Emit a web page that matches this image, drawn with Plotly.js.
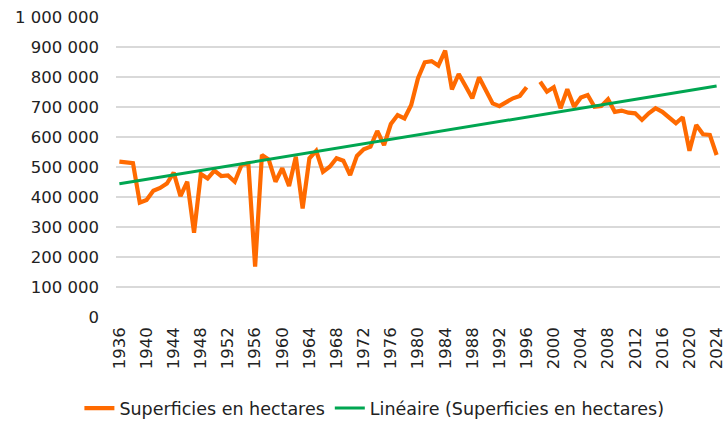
<!DOCTYPE html>
<html>
<head>
<meta charset="utf-8">
<script src="https://cdn.plot.ly/plotly-3.0.1.min.js"></script>
<style>html,body{margin:0;padding:0;background:#fff;}#chart{width:727px;height:423px;}</style>
</head>
<body>
<div id="chart"></div>
<script>
var years = [];
for (var y = 1936; y <= 2024; y++) years.push(y);

var surfaces = [
  518000, 515000, 513000, 381000, 390000, 421000, 430000, 445000, 481000, 403000,
  451000, 281000, 477000, 462000, 488000, 470000, 472000, 451000, 507000, 512000,
  168000, 540000, 525000, 451000, 496000, 437000, 534000, 362000, 529000, 554000,
  484000, 501000, 529000, 521000, 473000, 537000, 559000, 568000, 620000, 573000,
  643000, 673000, 662000, 707000, 796000, 849000, 853000, 838000, 888000, 759000,
  810000, 770000, 729000, 799000, 759000, 712000, 703000, 718000, 729000, 737000,
  766000, null,   784000, 751000, 766000, 696000, 759000, 701000, 732000, 740000,
  701000, 703000, 726000, 684000, 688000, 681000, 679000, 657000, 679000, 696000,
  684000, 666000, 646000, 666000, 554000, 640000, 609000, 607000, 540000
];

var trendYears = [1936, 2024];
var trendValues = [444000, 770000];

var yTicks = [0, 100000, 200000, 300000, 400000, 500000, 600000, 700000, 800000, 900000, 1000000];
var xTicks = [];
for (var t = 1936; t <= 2024; t += 4) xTicks.push(t);

var font = "DejaVu Sans, sans-serif";
var txt = '#222222';

var traces = [
  {
    x: years, y: surfaces, type: 'scatter', mode: 'lines',
    name: 'Superficies en hectares', connectgaps: false,
    line: {color: '#ff6a00', width: 4.2, shape: 'linear'}
  },
  {
    x: trendYears, y: trendValues, type: 'scatter', mode: 'lines',
    name: 'Linéaire (Superficies en hectares)',
    line: {color: '#00a651', width: 3}
  }
];

var layout = {
  width: 727, height: 423,
  margin: {l: 116, r: 7, t: 17, b: 106, autoexpand: false},
  paper_bgcolor: '#fff', plot_bgcolor: '#fff',
  separators: '. ',
  font: {family: font, size: 16.5, color: txt},
  showlegend: true,
  legend: {
    orientation: 'h', xref: 'container', x: 0.515, xanchor: 'center',
    yref: 'container', y: 0.035, yanchor: 'middle',
    font: {family: font, size: 17.5, color: txt},
    traceorder: 'normal', itemwidth: 30
  },
  xaxis: {
    range: [1935.5, 2024.5],
    tickmode: 'array', tickvals: xTicks, ticktext: xTicks.map(String),
    tickangle: -90, showgrid: false, zeroline: false, showline: false,
    ticks: '', ticklabelstandoff: 6,
    tickfont: {family: font, size: 16.5, color: txt}
  },
  yaxis: {
    range: [0, 1000000],
    tickmode: 'array', tickvals: yTicks,
    tickformat: ',d',
    showgrid: true, gridcolor: '#d9d9d9', gridwidth: 1.5,
    zeroline: false, showline: false, ticks: '', ticklabelstandoff: 16,
    tickfont: {family: font, size: 16.5, color: txt}
  }
};

Plotly.newPlot('chart', traces, layout, {displayModeBar: false, staticPlot: true});
</script>
</body>
</html>
